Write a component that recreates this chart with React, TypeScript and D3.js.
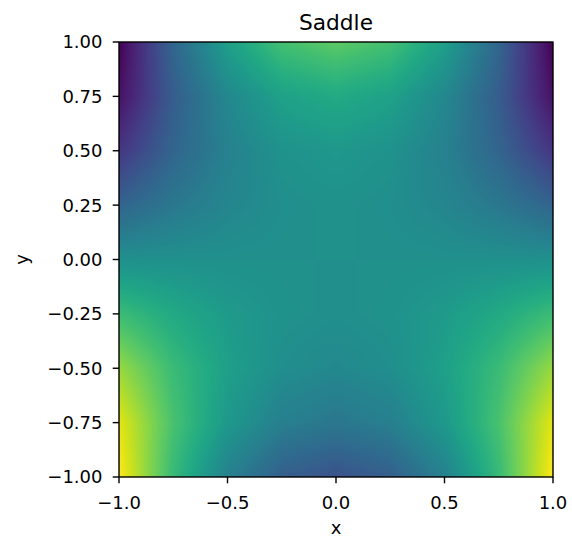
import React, { useEffect, useState } from "react";
import * as d3 from "d3";

// sample grid (x across, y rows from top y=1 down to y=-1)
const gridX = [-1, -0.75, -0.5, -0.25, 0, 0.25, 0.5, 0.75, 1];
const gridY = [1, 0.75, 0.5, 0.25, 0, -0.25, -0.5, -0.75, -1];
const zValues = [
  [-2.0, -0.69, 0.25, 0.81, 1.0, 0.81, 0.25, -0.69, -2.0],
  [-1.83, -0.84, -0.14, 0.28, 0.42, 0.28, -0.14, -0.84, -1.83],
  [-1.38, -0.72, -0.25, 0.03, 0.13, 0.03, -0.25, -0.72, -1.38],
  [-0.73, -0.41, -0.17, -0.03, 0.02, -0.03, -0.17, -0.41, -0.73],
  [0, 0, 0, 0, 0, 0, 0, 0, 0],
  [0.73, 0.41, 0.17, 0.03, -0.02, 0.03, 0.17, 0.41, 0.73],
  [1.38, 0.72, 0.25, -0.03, -0.13, -0.03, 0.25, 0.72, 1.38],
  [1.83, 0.84, 0.14, -0.28, -0.42, -0.28, 0.14, 0.84, 1.83],
  [2.0, 0.69, -0.25, -0.81, -1.0, -0.81, -0.25, 0.69, 2.0],
];
const xTicks = [-1, -0.5, 0, 0.5, 1];
const yTicks = [-1, -0.75, -0.5, -0.25, 0, 0.25, 0.5, 0.75, 1];
const title = "Saddle";

const W = 572, H = 537;
const m = { t: 42, r: 19, b: 60, l: 119 };
const font = "DejaVu Sans, sans-serif";
const fmt = (d: number, k: number) => d.toFixed(k).replace("-", "\u2212");

export default function App() {
  const [href, setHref] = useState("");
  const x = d3.scaleLinear().domain([-1, 1]).range([m.l, W - m.r]);
  const y = d3.scaleLinear().domain([-1, 1]).range([H - m.b, m.t]);
  const pw = W - m.r - m.l, ph = H - m.b - m.t;

  useEffect(() => {
    const all = zValues.flat();
    const color = d3.scaleSequential(d3.interpolateViridis).domain([d3.min(all)!, d3.max(all)!]);
    const ix = d3.scaleLinear().domain(d3.extent(gridX) as [number, number]).range([0, gridX.length - 1]).clamp(true);
    const iy = d3.scaleLinear().domain([gridY[0], gridY[gridY.length - 1]]).range([0, gridY.length - 1]).clamp(true);
    const cv = document.createElement("canvas");
    cv.width = pw; cv.height = ph;
    const ctx = cv.getContext("2d")!;
    const img = ctx.createImageData(pw, ph);
    for (let py = 0; py < ph; py++) {
      const gy = iy(y.invert(m.t + py + 0.5));
      const r0 = Math.min(Math.floor(gy), gridY.length - 2), ty = gy - r0;
      for (let px = 0; px < pw; px++) {
        const gx = ix(x.invert(m.l + px + 0.5));
        const c0 = Math.min(Math.floor(gx), gridX.length - 2), tx = gx - c0;
        const top = zValues[r0][c0] * (1 - tx) + zValues[r0][c0 + 1] * tx;
        const bot = zValues[r0 + 1][c0] * (1 - tx) + zValues[r0 + 1][c0 + 1] * tx;
        const c = d3.rgb(color(top * (1 - ty) + bot * ty));
        const k = (py * pw + px) * 4;
        img.data[k] = c.r; img.data[k + 1] = c.g; img.data[k + 2] = c.b; img.data[k + 3] = 255;
      }
    }
    ctx.putImageData(img, 0, 0);
    setHref(cv.toDataURL());
  }, []);

  return (
    <svg width={W} height={H} style={{ position: "absolute", left: 0, top: 0, background: "#fff" }} fontFamily={font}>
      {href && <image href={href} x={m.l} y={m.t} width={pw} height={ph} preserveAspectRatio="none" />}
      <rect x={m.l} y={m.t} width={pw} height={ph} fill="none" stroke="#000" strokeWidth={1.4} />
      {xTicks.map((d) => (
        <g key={"x" + d}>
          <line x1={x(d)} x2={x(d)} y1={y(-1)} y2={y(-1) + 6.3} stroke="#000" strokeWidth={1.4} />
          <text x={x(d)} y={y(-1) + 31.5} textAnchor="middle" fontSize={18} fill="#000">{fmt(d, 1)}</text>
        </g>
      ))}
      {yTicks.map((d) => (
        <g key={"y" + d}>
          <line x1={m.l - 6.3} x2={m.l} y1={y(d)} y2={y(d)} stroke="#000" strokeWidth={1.4} />
          <text x={m.l - 16.5} y={y(d)} dy="0.36em" textAnchor="end" fontSize={18} fill="#000">{fmt(d, 2)}</text>
        </g>
      ))}
      <text x={(m.l + W - m.r) / 2} y={534} textAnchor="middle" fontSize={18} fill="#000">x</text>
      <text transform={`translate(28,${(m.t + H - m.b) / 2}) rotate(-90)`} textAnchor="middle" fontSize={18} fill="#000">y</text>
      <text x={(m.l + W - m.r) / 2} y={30} textAnchor="middle" fontSize={21.7} fill="#000">{title}</text>
    </svg>
  );
}
